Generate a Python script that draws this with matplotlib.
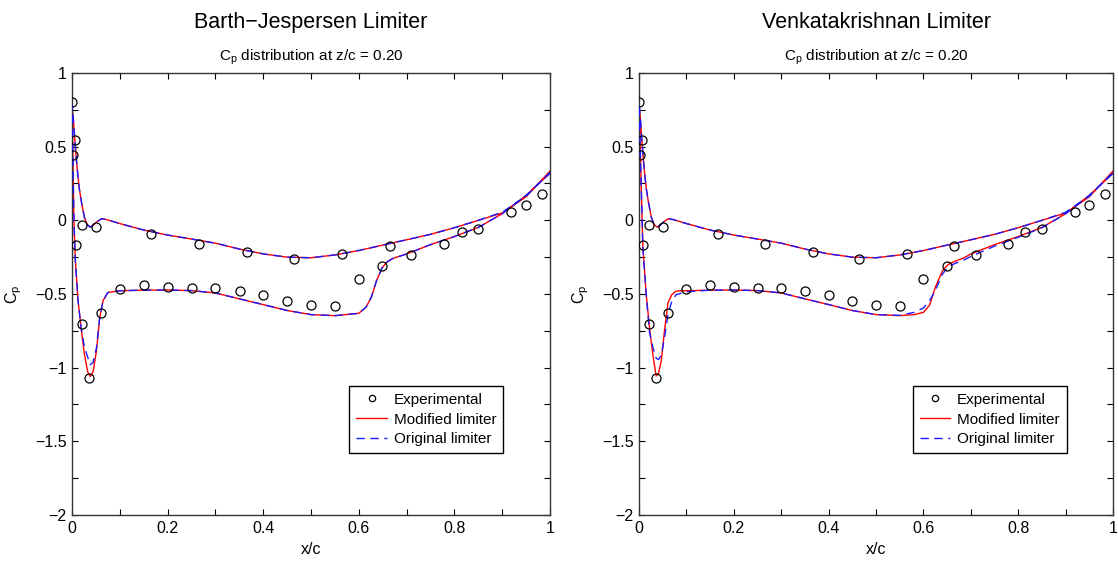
import matplotlib
matplotlib.use("Agg")
import matplotlib.pyplot as plt
from matplotlib.legend_handler import HandlerLine2D
from matplotlib.ticker import MultipleLocator

plt.rcParams['font.family'] = ['Liberation Sans', 'DejaVu Sans']
plt.rcParams['mathtext.fontset'] = 'custom'
plt.rcParams['mathtext.rm'] = 'Liberation Sans'
plt.rcParams['mathtext.it'] = 'Liberation Sans'

# experimental Cp at z/c = 0.20
exp_x = [0.0, 0.006, 0.002, 0.020, 0.009, 0.050, 0.166, 0.266, 0.366, 0.465,
         0.565, 0.665, 0.710, 0.779, 0.815, 0.850, 0.919, 0.949, 0.984,
         0.020, 0.035, 0.061, 0.100, 0.150, 0.200, 0.250, 0.300, 0.351,
         0.400, 0.450, 0.500, 0.550, 0.600, 0.649]
exp_cp = [0.80, 0.547, 0.444, -0.034, -0.169, -0.045, -0.09, -0.162, -0.214, -0.261,
          -0.23, -0.171, -0.236, -0.158, -0.077, -0.056, 0.059, 0.104, 0.176,
          -0.705, -1.068, -0.629, -0.464, -0.441, -0.453, -0.459, -0.462, -0.48,
          -0.505, -0.547, -0.577, -0.579, -0.398, -0.308]

# upper surface (shared by both limiters)
x_up = [0.0, 0.003, 0.006, 0.01, 0.015, 0.02, 0.026, 0.032, 0.038, 0.044, 0.052,
        0.062, 0.072, 0.1, 0.15, 0.2, 0.25, 0.3, 0.35, 0.4, 0.45, 0.5, 0.55,
        0.6, 0.65, 0.7, 0.75, 0.8, 0.85, 0.9, 0.95, 1.0]
cp_up_mod = [0.78, 0.68, 0.54, 0.38, 0.22, 0.12, 0.02, -0.03, -0.046, -0.035, -0.01,
             0.011, 0.005, -0.022, -0.066, -0.1, -0.127, -0.155, -0.195, -0.228,
             -0.25, -0.254, -0.235, -0.205, -0.168, -0.132, -0.095, -0.05, 0.0,
             0.05, 0.16, 0.335]
cp_up_orig = [0.78, 0.68, 0.54, 0.38, 0.22, 0.12, 0.02, -0.03, -0.046, -0.035, -0.01,
              0.011, 0.005, -0.022, -0.066, -0.1, -0.127, -0.155, -0.195, -0.228,
              -0.25, -0.254, -0.235, -0.205, -0.168, -0.132, -0.095, -0.05, 0.0,
              0.055, 0.165, 0.325]

# lower surface, Barth-Jespersen
x_lo_bj = [0.0, 0.002, 0.004, 0.007, 0.0125, 0.019, 0.026, 0.033, 0.038, 0.044,
           0.051, 0.058, 0.065, 0.075, 0.1, 0.15, 0.2, 0.25, 0.3, 0.35, 0.4, 0.45,
           0.5, 0.55, 0.6, 0.615, 0.626, 0.637, 0.649, 0.66, 0.671, 0.7, 0.75,
           0.8, 0.85, 0.9, 0.95, 1.0]
cp_lo_bj_mod = [0.78, 0.41, 0.0, -0.27, -0.54, -0.73, -0.91, -1.03, -1.06, -1.03,
                -0.89, -0.66, -0.545, -0.49, -0.478, -0.474, -0.473, -0.477, -0.493,
                -0.533, -0.572, -0.612, -0.64, -0.647, -0.631, -0.59, -0.523, -0.41,
                -0.32, -0.28, -0.259, -0.228, -0.165, -0.11, -0.048, 0.045, 0.17, 0.32]
cp_lo_bj_orig = [0.78, 0.41, 0.0, -0.27, -0.54, -0.73, -0.86, -0.93, -0.98, -0.965,
                 -0.87, -0.66, -0.545, -0.49, -0.478, -0.474, -0.473, -0.477, -0.493,
                 -0.533, -0.572, -0.612, -0.64, -0.647, -0.631, -0.59, -0.523, -0.41,
                 -0.32, -0.28, -0.259, -0.228, -0.165, -0.11, -0.048, 0.045, 0.17, 0.32]

# lower surface, Venkatakrishnan
x_lo_vk = [0.0, 0.005, 0.008, 0.015, 0.022, 0.029, 0.036, 0.041, 0.047, 0.054,
           0.061, 0.069, 0.078, 0.1, 0.15, 0.2, 0.25, 0.3, 0.35, 0.4, 0.45, 0.5,
           0.55, 0.58, 0.6, 0.613, 0.625, 0.64, 0.652, 0.665, 0.685, 0.7, 0.75,
           0.8, 0.85, 0.9, 0.95, 1.0]
cp_lo_vk_mod = [0.79, 0.18, -0.18, -0.5, -0.727, -0.909, -1.057, -1.04, -0.95, -0.74,
                -0.56, -0.505, -0.48, -0.478, -0.474, -0.473, -0.477, -0.493, -0.533,
                -0.572, -0.612, -0.64, -0.647, -0.64, -0.625, -0.575, -0.455, -0.342,
                -0.3, -0.28, -0.255, -0.228, -0.165, -0.11, -0.048, 0.045, 0.17, 0.32]
cp_lo_vk_orig = [0.79, 0.18, -0.18, -0.5, -0.76, -0.86, -0.935, -0.945, -0.915, -0.79,
                 -0.64, -0.55, -0.505, -0.485, -0.474, -0.473, -0.477, -0.493, -0.533,
                 -0.572, -0.612, -0.64, -0.645, -0.625, -0.595, -0.545, -0.477, -0.365,
                 -0.315, -0.295, -0.27, -0.245, -0.175, -0.115, -0.05, 0.045, 0.17, 0.32]


class RightMarkerHandler(HandlerLine2D):
    # puts the single legend marker at the right end of the handle
    def get_xdata(self, legend, xdescent, ydescent, width, height, fontsize):
        xdata, _ = super().get_xdata(legend, xdescent, ydescent, width, height, fontsize)
        return xdata, [-xdescent + width - 3]


def surface(x_up, cp_up, x_lo, cp_lo):
    xs = list(reversed(x_lo)) + list(x_up[1:])
    cps = list(reversed(cp_lo)) + list(cp_up[1:])
    return xs, cps


def draw(ax, title, up_mod, up_orig, x_lo, lo_mod, lo_orig):
    xm, cm = surface(x_up, up_mod, x_lo, lo_mod)
    xo, co = surface(x_up, up_orig, x_lo, lo_orig)
    pts, = ax.plot(exp_x, exp_cp, 'o', mfc='none', mec='black', ms=6.5, mew=0.9,
                   label='Experimental', zorder=4)
    red, = ax.plot(xm, cm, '-', color='#ff0000', lw=1.0, label='Modified limiter', zorder=2)
    blue, = ax.plot(xo, co, '--', color='#1a1aff', lw=1.0, dashes=(6, 4),
                    label='Original limiter', zorder=3)
    ax.set_xlim(0, 1)
    ax.set_ylim(-2, 1)
    ax.xaxis.set_major_locator(MultipleLocator(0.2))
    ax.xaxis.set_minor_locator(MultipleLocator(0.1))
    ax.yaxis.set_major_locator(MultipleLocator(0.5))
    ax.yaxis.set_minor_locator(MultipleLocator(0.25))
    ax.xaxis.set_major_formatter(plt.FuncFormatter(lambda v, p: f"{v:g}"))
    ax.yaxis.set_major_formatter(plt.FuncFormatter(lambda v, p: f"{v:g}".replace('-', '\u2212')))
    ax.tick_params(which='both', direction='in', top=True, right=True, length=4,
                   width=0.8, labelsize=11.5, pad=4)
    for s in ax.spines.values():
        s.set_color('#333333')
        s.set_linewidth(1.0)
    ax.set_xlabel('x/c', fontsize=11.5, labelpad=5)
    ax.set_ylabel(r'$\mathregular{C_p}$', fontsize=11.5, labelpad=8)
    ax.text(0.5, 1.101, title, transform=ax.transAxes, ha='center', va='baseline',
            fontsize=15.5)
    ax.text(0.5, 1.029, r'$\mathregular{C_p}$ distribution at z/c = 0.20',
            transform=ax.transAxes, ha='center', va='baseline', fontsize=11)
    leg = ax.legend(handles=[pts, red, blue], loc='upper right',
                    bbox_to_anchor=(0.902, 0.292), fontsize=11, frameon=True,
                    fancybox=False, framealpha=1, edgecolor='black',
                    handlelength=2.0, handletextpad=0.45, labelspacing=0.38,
                    borderpad=0.45, borderaxespad=0, markerscale=0.7,
                    handler_map={pts: RightMarkerHandler(numpoints=1)})
    leg.get_frame().set_linewidth(1.0)


fig = plt.figure(figsize=(11.18, 5.61), dpi=100)
ax1 = fig.add_axes([0.0644, 0.082, 0.4276, 0.7879])
ax2 = fig.add_axes([0.5716, 0.082, 0.4240, 0.7879])

draw(ax1, 'Barth\u2212Jespersen Limiter', cp_up_mod, cp_up_orig, x_lo_bj,
     cp_lo_bj_mod, cp_lo_bj_orig)
draw(ax2, 'Venkatakrishnan Limiter', cp_up_mod, cp_up_orig, x_lo_vk,
     cp_lo_vk_mod, cp_lo_vk_orig)

fig.savefig('out.png', dpi=100)
